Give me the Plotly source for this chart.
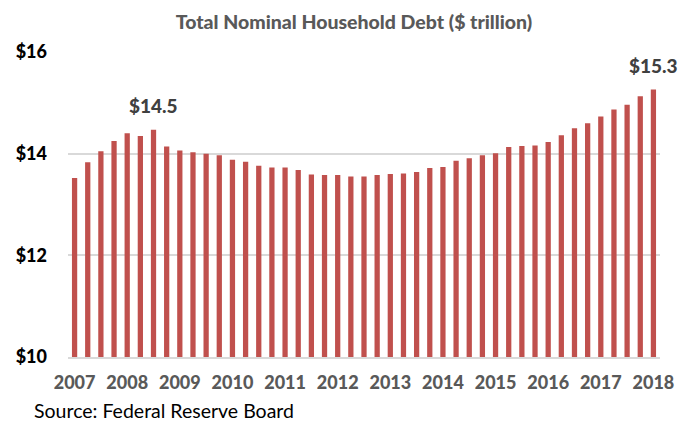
import plotly.graph_objects as go

quarters = [f"{y}Q{q}" for y in range(2007, 2019) for q in range(1, 5)][:45]
debt = [13.52, 13.83, 14.05, 14.25, 14.40, 14.35, 14.47, 14.14, 14.06, 14.03,
        14.00, 13.97, 13.88, 13.84, 13.76, 13.73, 13.73, 13.68, 13.59, 13.58,
        13.58, 13.55, 13.55, 13.58, 13.60, 13.61, 13.64, 13.72, 13.74, 13.86,
        13.91, 13.97, 14.01, 14.13, 14.15, 14.16, 14.23, 14.36, 14.50, 14.60,
        14.73, 14.87, 14.96, 15.13, 15.26]
year_labels = [str(y) for y in range(2007, 2019)]
year_ticks = [f"{y}Q1" for y in range(2007, 2019)]
labels = {"2008Q3": "$14.5", "2018Q1": "$15.3"}
y_ticks = [10, 12, 14, 16]
y_ticktext = ["$10", "$12", "$14", "$16"]

FONT = "Lato"

fig = go.Figure()
fig.add_trace(go.Bar(
    x=quarters, y=debt,
    marker=dict(color="#C0504D", line=dict(width=0)),
    width=0.4,
    hoverinfo="x+y",
))

for q, txt in labels.items():
    i = quarters.index(q)
    fig.add_annotation(x=q, y=debt[i], text=txt, showarrow=False,
                       yanchor="bottom", yshift=11,
                       font=dict(family=FONT, size=19, color="#404040", weight=900))

fig.add_annotation(xref="paper", yref="paper", x=-0.06, y=-0.174,
                   xanchor="left", yanchor="middle", showarrow=False,
                   text="Source: Federal Reserve Board",
                   font=dict(family=FONT, size=19.5, color="#000000"))

fig.update_layout(
    width=686, height=422,
    margin=dict(l=68, r=18, t=52, b=65),
    paper_bgcolor="white", plot_bgcolor="white",
    showlegend=False,
    bargap=0.6,
    title=dict(text="Total Nominal Household Debt ($ trillion)",
               x=354 / 686, xanchor="center", xref="container",
               y=1 - 22 / 422, yanchor="middle", yref="container",
               font=dict(family=FONT, size=19.5, color="#595959", weight=900)),
    font=dict(family=FONT),
)
fig.update_xaxes(
    type="category", range=[-0.5, 44.5],
    tickmode="array", tickvals=year_ticks, ticktext=year_labels,
    tickangle=0,
    tickfont=dict(family=FONT, size=18, color="#595959", weight=900),
    showgrid=False, showline=True, linecolor="#D9D9D9", linewidth=2,
    ticks="", ticklabelstandoff=8,
)
fig.update_yaxes(
    range=[10, 16], tickmode="array", tickvals=y_ticks,
    ticktext=y_ticktext,
    tickfont=dict(family=FONT, size=18, color="#000000", weight=900),
    showgrid=True, gridcolor="#D9D9D9", gridwidth=2,
    zeroline=False, showline=False, ticks="", ticklabelstandoff=20,
)

fig.write_html("out.html")
